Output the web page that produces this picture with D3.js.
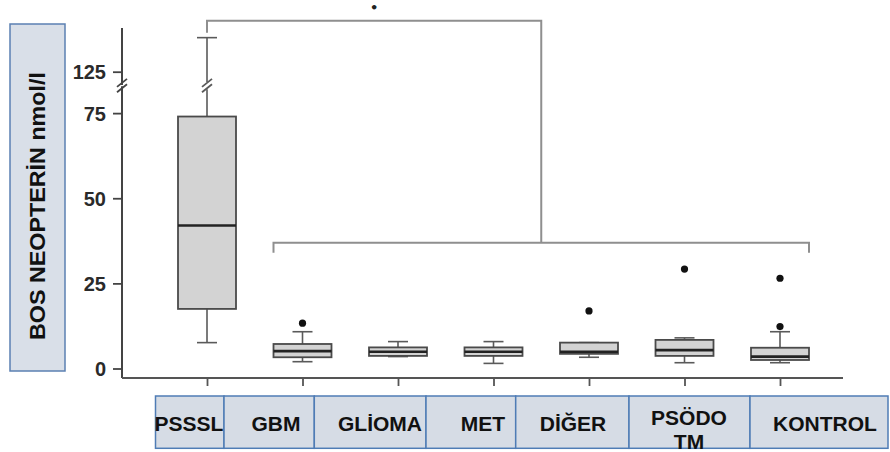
<!DOCTYPE html>
<html>
<head>
<meta charset="utf-8">
<script src="https://cdn.jsdelivr.net/npm/d3@7"></script>
<style>
  html, body { margin: 0; padding: 0; background: #fff; }
  svg { display: block; }
</style>
</head>
<body>
<svg id="chart" width="890" height="452"></svg>
<script>
// ---- data ----
const categories = ["PSSSL", "GBM", "GLİOMA", "MET", "DİĞER", "PSÖDO TM", "KONTROL"];
const lowerWhisker = [7.6, 2.0, 3.5, 1.5, 3.3, 1.7, 1.7];
const q1Values     = [17.5, 3.3, 3.7, 3.7, 4.3, 3.7, 2.5];
const medianValues = [42.0, 5.1, 4.9, 4.9, 4.9, 5.4, 3.5];
const q3Values     = [74.0, 7.2, 6.2, 6.2, 7.6, 8.4, 6.1];
const upperWhisker = [135.0, 10.8, 7.9, 7.9, 7.6, 9.0, 10.8];
const outliers     = [[], [13.3], [], [], [16.9], [29.2], [12.3, 26.5]];
const lowerTicks = [0, 25, 50, 75];
const upperTicks = [125];
const yLabel = "BOS NEOPTERİN nmol/l";
const tableLabels = [["PSSSL"], ["GBM"], ["GLİOMA"], ["MET"], ["DİĞER"], ["PSÖDO", "TM"], ["KONTROL"]];
const significance = "•";

// ---- layout ----
const svg = d3.select("#chart");
const axisX = 122, axisBottomY = 378, axisTopY = 28, axisRight = 843;
const x = d3.scalePoint().domain(categories).range([207, 780]);
const yLow = d3.scaleLinear().domain([0, 82]).range([368.5, 368.5 - 82 * 3.405]);
const yHigh = d3.scaleLinear().domain([122, 138]).range([71.7 + 3 * 3.405, 71.7 - 13 * 3.405]);
const breakVal = 100; // values above this live on the upper segment
const y = v => v > breakVal ? yHigh(v) : yLow(v);
const boxW = 58, capW = 20;
const axisColor = "#444";

// y label box
svg.append("rect").attr("x", 10).attr("y", 24).attr("width", 55).attr("height", 347)
  .attr("fill", "#d9dfe8").attr("stroke", "#5b80b2").attr("stroke-width", 1.5);
svg.append("text")
  .attr("transform", "translate(45,206) rotate(-90)")
  .attr("text-anchor", "middle")
  .attr("font-family", "Liberation Sans, Arial, sans-serif")
  .attr("font-weight", "bold").attr("font-size", 22)
  .attr("textLength", 268).attr("lengthAdjust", "spacingAndGlyphs")
  .attr("fill", "#111").text(yLabel);

// axes
const fontTicks = "Liberation Sans, Arial, sans-serif";
function styleAxis(g) {
  g.select(".domain").remove();
  g.selectAll(".tick line").attr("stroke", axisColor).attr("stroke-width", 1.8);
  g.selectAll(".tick text").attr("fill", "#2a2a2a").attr("font-family", fontTicks)
    .attr("font-weight", "bold").attr("font-size", 20);
}
svg.append("g").attr("transform", `translate(${axisX},0)`)
  .call(d3.axisLeft(yLow).tickValues(lowerTicks).tickSize(9).tickPadding(7).tickFormat(d3.format("d")))
  .call(styleAxis);
svg.append("g").attr("transform", `translate(${axisX},0)`)
  .call(d3.axisLeft(yHigh).tickValues(upperTicks).tickSize(9).tickPadding(7).tickFormat(d3.format("d")))
  .call(styleAxis);
svg.selectAll(".tick text").attr("dy", "0.36em");

// y axis line with break
const gapTop = yHigh(122) + 1, gapBot = yLow(82) - 1;
svg.append("line").attr("x1", axisX).attr("x2", axisX).attr("y1", axisTopY).attr("y2", gapTop + 2)
  .attr("stroke", axisColor).attr("stroke-width", 2);
svg.append("line").attr("x1", axisX).attr("x2", axisX).attr("y1", gapBot - 2).attr("y2", axisBottomY)
  .attr("stroke", axisColor).attr("stroke-width", 2);
function breakMarks(cx, color) {
  [gapTop, gapBot].forEach(yy => {
    svg.append("line").attr("x1", cx - 5).attr("x2", cx + 5).attr("y1", yy + 4).attr("y2", yy - 4)
      .attr("stroke", color).attr("stroke-width", 1.8);
  });
}
breakMarks(axisX, axisColor);

// x axis
svg.append("line").attr("x1", axisX).attr("x2", axisRight).attr("y1", axisBottomY).attr("y2", axisBottomY)
  .attr("stroke", "#555").attr("stroke-width", 2);
svg.append("g").attr("transform", `translate(0,${axisBottomY})`)
  .call(d3.axisBottom(x).tickSize(8).tickFormat(""))
  .call(g => { g.select(".domain").remove(); g.selectAll(".tick line").attr("stroke", "#555").attr("stroke-width", 1.8); });

// boxes
const whiskerColor = "#5a5a5a";
categories.forEach((c, i) => {
  const cx = x(c);
  const g = svg.append("g");
  const top = y(upperWhisker[i]);
  if (upperWhisker[i] > breakVal) {
    g.append("line").attr("x1", cx).attr("x2", cx).attr("y1", y(q3Values[i])).attr("y2", gapBot + 1)
      .attr("stroke", whiskerColor).attr("stroke-width", 1.6);
    g.append("line").attr("x1", cx).attr("x2", cx).attr("y1", gapTop - 1).attr("y2", top)
      .attr("stroke", whiskerColor).attr("stroke-width", 1.6);
    breakMarks(cx, whiskerColor);
  } else {
    g.append("line").attr("x1", cx).attr("x2", cx).attr("y1", y(q3Values[i])).attr("y2", top)
      .attr("stroke", whiskerColor).attr("stroke-width", 1.6);
  }
  g.append("line").attr("x1", cx).attr("x2", cx).attr("y1", y(q1Values[i])).attr("y2", y(lowerWhisker[i]))
    .attr("stroke", whiskerColor).attr("stroke-width", 1.6);
  [upperWhisker[i], lowerWhisker[i]].forEach(v => {
    g.append("line").attr("x1", cx - capW / 2).attr("x2", cx + capW / 2).attr("y1", y(v)).attr("y2", y(v))
      .attr("stroke", whiskerColor).attr("stroke-width", 1.6);
  });
  g.append("rect").attr("x", cx - boxW / 2).attr("width", boxW)
    .attr("y", y(q3Values[i])).attr("height", y(q1Values[i]) - y(q3Values[i]))
    .attr("fill", "#d3d3d3").attr("stroke", "#4a4a4a").attr("stroke-width", 1.8);
  g.append("line").attr("x1", cx - boxW / 2).attr("x2", cx + boxW / 2)
    .attr("y1", y(medianValues[i])).attr("y2", y(medianValues[i]))
    .attr("stroke", "#222").attr("stroke-width", 2.6);
  outliers[i].forEach(v => {
    g.append("circle").attr("cx", cx).attr("cy", y(v)).attr("r", 3.6).attr("fill", "#111");
  });
});

// significance brackets
const brColor = "#8f8f8f";
const lowL = x(categories[1]) - boxW / 2, lowR = x(categories[6]) + boxW / 2;
const lowY = 242.7, topY = 20.7;
const midLow = (lowL + lowR) / 2;
svg.append("path")
  .attr("d", `M${lowL},${lowY + 10}V${lowY}H${lowR}V${lowY + 10}`)
  .attr("fill", "none").attr("stroke", brColor).attr("stroke-width", 2);
svg.append("path")
  .attr("d", `M${x(categories[0])},${topY + 12}V${topY}H${midLow}V${lowY}`)
  .attr("fill", "none").attr("stroke", brColor).attr("stroke-width", 2);
svg.append("text").attr("x", (x(categories[0]) + midLow) / 2).attr("y", 12)
  .attr("text-anchor", "middle").attr("font-family", "DejaVu Sans, sans-serif")
  .attr("font-size", 13).attr("font-weight", "bold").attr("fill", "#222").text(significance);

// category table
const cellEdges = [155.5, 224, 314.3, 426, 515.7, 629, 750, 888];
const tableTop = 396, tableBot = 448.3;
const labelFont = "Liberation Sans, Arial, sans-serif";
tableLabels.forEach((lines, i) => {
  const x0 = cellEdges[i], x1 = cellEdges[i + 1];
  svg.append("rect").attr("x", x0).attr("y", tableTop).attr("width", x1 - x0).attr("height", tableBot - tableTop)
    .attr("fill", "#d6dce5").attr("stroke", "#4f7cb5").attr("stroke-width", 1.5);
});
const labelCenters = [189, 276, 380, 483, 573, 689, 825];
tableLabels.forEach((lines, i) => {
  const t = svg.append("text").attr("text-anchor", "middle")
    .attr("font-family", labelFont).attr("font-weight", "bold").attr("font-size", 21)
    .attr("fill", "#111");
  if (lines.length === 1) {
    t.append("tspan").attr("x", labelCenters[i]).attr("y", 431).text(lines[0]);
  } else {
    t.append("tspan").attr("x", labelCenters[i]).attr("y", 425).text(lines[0]);
    t.append("tspan").attr("x", labelCenters[i]).attr("y", 449).text(lines[1]);
  }
});
</script>
</body>
</html>
